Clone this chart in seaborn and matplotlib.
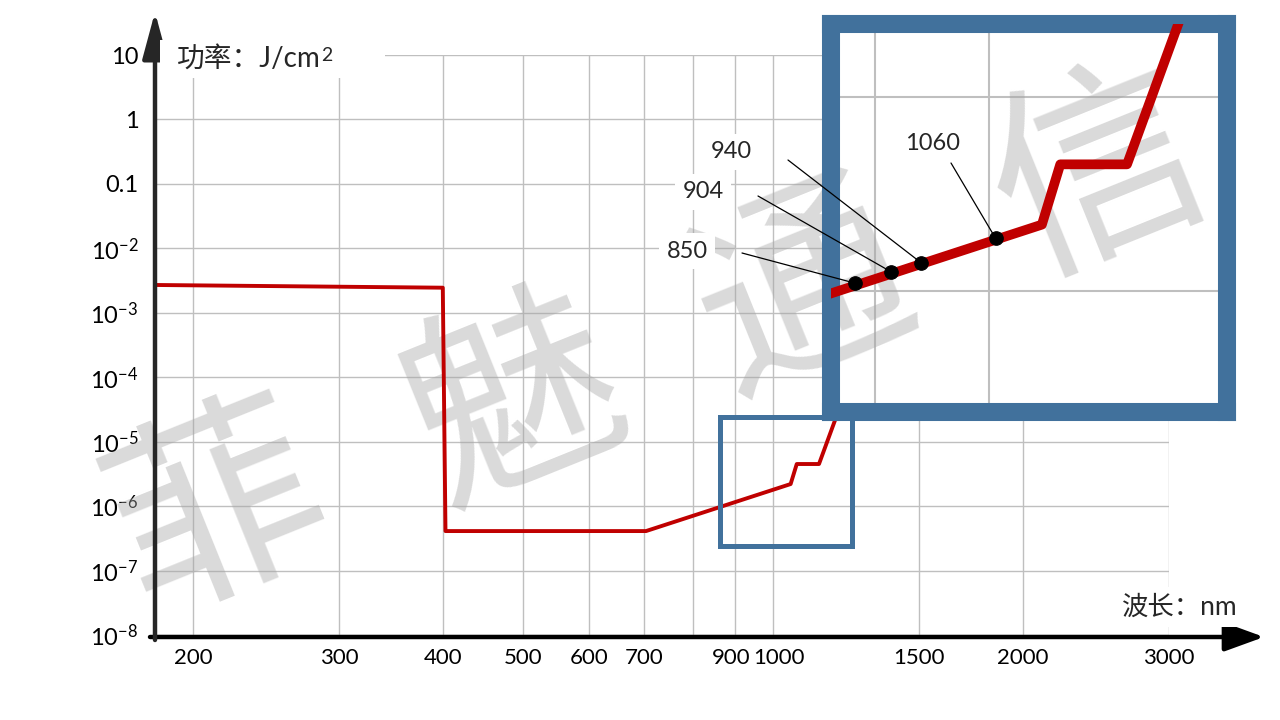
import numpy as np
import pandas as pd
import seaborn as sns
import matplotlib.pyplot as plt
from matplotlib.patches import Rectangle
from matplotlib.text import Annotation
from matplotlib.ticker import FixedLocator, FixedFormatter, NullLocator
from matplotlib.transforms import ScaledTranslation

# exposure limit curve: wavelength (nm) vs energy (J/cm2)
wavelength_nm = [180, 400, 403, 703, 1050, 1068, 1136, 1250]
energy_j_cm2 = [2.7e-3, 2.45e-3, 4.1e-7, 4.1e-7, 2.2e-6, 4.5e-6, 4.5e-6, 1.3e-4]

# marked wavelengths in the zoomed view
marker_nm = [883, 913, 939, 1006]
marker_energy = [1.1e-6, 1.26e-6, 1.4e-6, 1.87e-6]
marker_labels = ['850', '904', '940', '1060']

x_ticks = [200, 300, 400, 500, 600, 700, 800, 900, 1000, 1500, 2000, 3000]
x_tick_labels = ['200', '300', '400', '500', '600', '700', '', '900', '1000', '1500', '2000', '3000']
y_ticks = [1e-8, 1e-7, 1e-6, 1e-5, 1e-4, 1e-3, 1e-2, 0.1, 1, 10]
y_tick_labels = [r'$\mathregular{10^{-8}}$', r'$\mathregular{10^{-7}}$', r'$\mathregular{10^{-6}}$',
                 r'$\mathregular{10^{-5}}$', r'$\mathregular{10^{-4}}$', r'$\mathregular{10^{-3}}$',
                 r'$\mathregular{10^{-2}}$', '0.1', '1', '10']

watermark_chars = ['菲', '魅', '通', '信']

sns.set_theme(style='white')
plt.rcParams['font.family'] = ['Lato', 'Noto Sans CJK SC', 'DejaVu Sans']
plt.rcParams['axes.unicode_minus'] = True

W, H = 1280, 720
RED = '#c00000'
BLUE = '#41719c'
GRID = '#bfbfbf'


def fig_frac(x, y):
    # pixel position measured from the top-left corner -> figure fraction
    return x / W, 1 - y / H


df = pd.DataFrame({'nm': wavelength_nm, 'energy': energy_j_cm2})
marks = pd.DataFrame({'nm': marker_nm, 'energy': marker_energy})

fig = plt.figure(figsize=(12.8, 7.2), dpi=100)
ax = fig.add_axes([155 / W, 85 / H, (1169 - 155) / W, (635 - 55) / H])
ax.set_xscale('log')
ax.set_yscale('log')
sns.lineplot(data=df, x='nm', y='energy', ax=ax, color=RED, lw=2.8,
             estimator=None, sort=False, zorder=3)
ax.set_xlim(180, 3000)
ax.set_ylim(1e-8, 10)
ax.set_xlabel('')
ax.set_ylabel('')
ax.xaxis.set_major_locator(FixedLocator(x_ticks))
ax.xaxis.set_major_formatter(FixedFormatter(x_tick_labels))
ax.xaxis.set_minor_locator(NullLocator())
ax.yaxis.set_major_locator(FixedLocator(y_ticks))
ax.yaxis.set_major_formatter(FixedFormatter(y_tick_labels))
ax.yaxis.set_minor_locator(NullLocator())
ax.grid(True, color=GRID, lw=1)
ax.set_axisbelow(True)
for s in ax.spines.values():
    s.set_visible(False)
ax.tick_params(axis='x', length=0, pad=9, labelsize=16, colors='black')
ax.tick_params(axis='y', length=5, width=1, color=GRID, pad=7, labelsize=17, labelcolor='black')

# nudge the crowded 900 / 1000 labels apart
xlabels = ax.get_xticklabels()
for lab, dx in [(xlabels[7], -4), (xlabels[8], 6)]:
    lab.set_transform(lab.get_transform() + ScaledTranslation(dx / 100, 0, fig.dpi_scale_trans))

# box marking the zoomed region
ins_xlim = (864, 1246)
ins_ylim = (2.38e-7, 2.38e-5)
ax.add_patch(Rectangle((ins_xlim[0], ins_ylim[0]), ins_xlim[1] - ins_xlim[0],
                       ins_ylim[1] - ins_ylim[0], fill=False, ec=BLUE, lw=3.6, zorder=4))

# arrow axes
ax.annotate('', xy=fig_frac(1264, 637), xytext=fig_frac(150, 637), xycoords='figure fraction',
            arrowprops=dict(arrowstyle='-|>,head_length=1.1,head_width=0.4', lw=3.2, color='black',
                            mutation_scale=22, shrinkA=0, shrinkB=0), annotation_clip=False, zorder=6)
ax.annotate('', xy=fig_frac(155, 12), xytext=fig_frac(155, 640), xycoords='figure fraction',
            arrowprops=dict(arrowstyle='-|>,head_length=1.3,head_width=0.35', lw=3.2, color='#262626',
                            mutation_scale=22, shrinkA=0, shrinkB=0), annotation_clip=False, zorder=6)

wm_pos = [(220, 515), (517, 406), (805, 295), (1100, 178)]
for ch, (px, py) in zip(watermark_chars, wm_pos):
    ax.text(*fig_frac(px, py), ch, transform=fig.transFigure, fontsize=152, color='#a6a6a6',
            alpha=0.42, rotation=22, ha='center', va='center', rotation_mode='anchor',
            family='Noto Sans CJK SC', zorder=1.6)

# zoomed inset
axins = fig.add_axes([831 / W, (H - 412) / H, (1227 - 831) / W, (412 - 24) / H])
axins.set_xscale('log')
axins.set_yscale('log')
sns.lineplot(data=df, x='nm', y='energy', ax=axins, color=RED, lw=7,
             estimator=None, sort=False, zorder=3)
sns.scatterplot(data=marks, x='nm', y='energy', ax=axins, color='black', s=95,
                edgecolor='black', zorder=5)
axins.set_xlim(*ins_xlim)
axins.set_ylim(*ins_ylim)
axins.xaxis.set_major_locator(FixedLocator(x_ticks))
axins.xaxis.set_minor_locator(NullLocator())
axins.yaxis.set_major_locator(FixedLocator(y_ticks))
axins.yaxis.set_minor_locator(NullLocator())
axins.grid(True, color=GRID, lw=1.5)
axins.set_axisbelow(True)
axins.set_xticklabels([])
axins.set_yticklabels([])
axins.tick_params(length=0)
axins.set_xlabel('')
axins.set_ylabel('')
for s in axins.spines.values():
    s.set_color(BLUE)
    s.set_linewidth(13)
for ch, (px, py) in zip(watermark_chars, wm_pos):
    axins.text(*fig_frac(px, py), ch, transform=fig.transFigure, fontsize=152, color='#a6a6a6',
               alpha=0.42, rotation=22, ha='center', va='center', rotation_mode='anchor',
               family='Noto Sans CJK SC', zorder=1.6, clip_on=True)

# callouts
label_pos = [(687, 251), (703, 192), (731, 152), (933, 143)]
line_start = [(742, 253), (758, 196), (788, 160), (951, 163)]
for nm, en, lab, (tx, ty), (sx, sy) in zip(marker_nm, marker_energy, marker_labels, label_pos, line_start):
    axins.annotate('', xy=(nm, en), xycoords='data', xytext=(sx, H - sy), textcoords='figure pixels',
                   arrowprops=dict(arrowstyle='-', lw=0.9, color='black', shrinkA=0, shrinkB=0),
                   annotation_clip=False)
    fig.text(*fig_frac(tx, ty), lab, fontsize=17, ha='center', va='center',
             bbox=dict(fc='white', ec='none', boxstyle='square,pad=0.3'))

# axis titles
fig.add_artist(Rectangle(fig_frac(160, 78), 225 / W, 38 / H, transform=fig.transFigure,
                         fc='white', ec='none', zorder=2))
ytitle = fig.text(*fig_frac(177, 59), '功率：J/cm', fontsize=20, ha='left', va='center')
sup = Annotation('2', xy=(1.0, 1.0), xycoords=ytitle, xytext=(0.6, -1), textcoords='offset points',
                 fontsize=14, ha='left', va='top')
sup.set_zorder(4)
fig.add_artist(sup)
fig.text(*fig_frac(1180, 607), '波长：nm', fontsize=19, ha='center', va='center',
         bbox=dict(fc='white', ec='none', boxstyle='square,pad=0.3'))

fig.savefig('out.png', dpi=100)
